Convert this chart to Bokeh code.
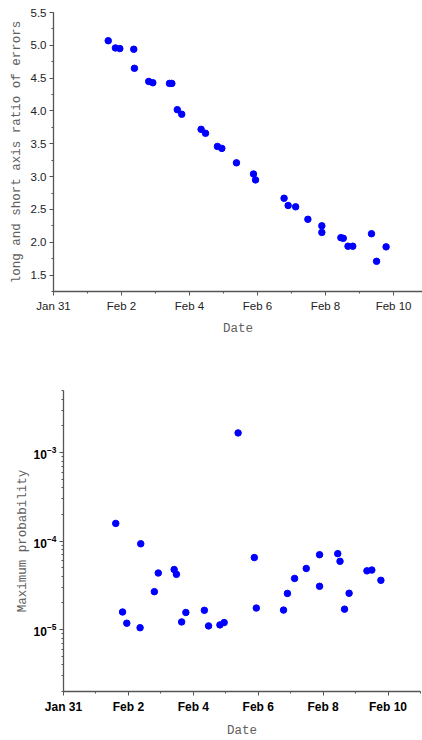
import pandas as pd
from bokeh.plotting import figure
from bokeh.layouts import column, row
from bokeh.models import (FixedTicker, DatetimeTickFormatter, Range1d,
                          SingleIntervalTicker, LogTicker, ColumnDataSource,
                          PrintfTickFormatter)
from bokeh.embed import file_html
from bokeh.resources import INLINE

# ---------------- data ----------------
dates = ["2020-02-01 14:38", "2020-02-01 19:41", "2020-02-01 22:48",
         "2020-02-02 08:38", "2020-02-02 09:07", "2020-02-02 19:12",
         "2020-02-02 22:05", "2020-02-03 09:50", "2020-02-03 11:31",
         "2020-02-03 15:22", "2020-02-03 18:29", "2020-02-04 08:10",
         "2020-02-04 11:17", "2020-02-04 19:41", "2020-02-04 22:48",
         "2020-02-05 09:07", "2020-02-05 21:07", "2020-02-05 22:34",
         "2020-02-06 18:43", "2020-02-06 21:36", "2020-02-07 02:53",
         "2020-02-07 11:31", "2020-02-07 21:22", "2020-02-07 21:22",
         "2020-02-08 10:48", "2020-02-08 12:29", "2020-02-08 15:50",
         "2020-02-08 19:12", "2020-02-09 08:24", "2020-02-09 12:00",
         "2020-02-09 18:43"]

axis_ratio = [5.07, 4.96, 4.95, 4.94, 4.65, 4.45, 4.43, 4.42, 4.42, 4.02,
              3.95, 3.72, 3.66, 3.46, 3.43, 3.21, 3.04, 2.95, 2.67, 2.56,
              2.54, 2.35, 2.25, 2.15, 2.07, 2.06, 1.94, 1.94, 2.13, 1.71, 1.93]

max_prob = [1.58e-4, 1.58e-5, 1.18e-5, 1.05e-5, 9.3e-5, 2.68e-5, 4.35e-5,
            4.76e-5, 4.2e-5, 1.22e-5, 1.56e-5, 1.65e-5, 1.1e-5, 1.13e-5,
            1.2e-5, 1.66e-3, 6.5e-5, 1.75e-5, 1.66e-5, 2.56e-5, 3.78e-5,
            4.9e-5, 7.0e-5, 3.08e-5, 7.2e-5, 5.9e-5, 1.7e-5, 2.57e-5,
            4.6e-5, 4.7e-5, 3.6e-5]

major_dates = ["2020-01-31", "2020-02-02", "2020-02-04", "2020-02-06",
               "2020-02-08", "2020-02-10"]
minor_dates = ["2020-02-01", "2020-02-03", "2020-02-05", "2020-02-07",
               "2020-02-09", "2020-02-11"]

src = ColumnDataSource(dict(date=pd.to_datetime(dates), ratio=axis_ratio, prob=max_prob))


def ms(s):
    return pd.Timestamp(s).timestamp() * 1000.0


date_ticker = FixedTicker(ticks=[ms(d) for d in major_dates],
                          minor_ticks=[ms(d) for d in minor_dates])
fmt = "%b %-d"
date_fmt = DatetimeTickFormatter(microseconds=fmt, milliseconds=fmt, seconds=fmt,
                                 minsec=fmt, minutes=fmt, hourmin=fmt, hours=fmt,
                                 days=fmt, months=fmt, years=fmt)

AXIS_COLOR = "#555555"
LABEL_COLOR = "#606060"


def style(p, tick_font_size, tick_bold):
    p.grid.visible = False
    p.outline_line_color = None
    p.background_fill_color = "white"
    p.border_fill_color = "white"
    for ax in (p.xaxis[0], p.yaxis[0]):
        ax.axis_line_color = AXIS_COLOR
        ax.axis_line_width = 1.3
        ax.major_tick_line_color = AXIS_COLOR
        ax.minor_tick_line_color = AXIS_COLOR
        ax.major_tick_in = 0
        ax.major_tick_out = 4
        ax.minor_tick_in = 0
        ax.minor_tick_out = 2
        ax.major_label_text_font = "Liberation Sans"
        ax.major_label_text_font_size = tick_font_size
        ax.major_label_text_font_style = "bold" if tick_bold else "normal"
        ax.major_label_text_color = "black" if tick_bold else "#222222"
        ax.axis_label_text_font = "Liberation Mono"
        ax.axis_label_text_font_size = "12.5px"
        ax.axis_label_text_font_style = "normal"
        ax.axis_label_text_color = LABEL_COLOR
    p.xaxis[0].ticker = date_ticker
    p.xaxis[0].formatter = date_fmt
    p.xaxis[0].major_label_standoff = 4
    p.xaxis[0].axis_label_standoff = 7
    p.yaxis[0].major_label_standoff = 3


# ---------------- top chart ----------------
p1 = figure(width=422, height=340, x_axis_type="datetime",
            x_range=Range1d(pd.Timestamp("2020-01-31"),
                            pd.Timestamp("2020-01-31") + pd.Timedelta(days=10.85)),
            y_range=Range1d(1.25, 5.5),
            output_backend="svg", toolbar_location=None,
            min_border_left=53, min_border_right=0,
            min_border_top=12, min_border_bottom=49)
p1.scatter("date", "ratio", source=src, size=6.5, color="#0000FF", line_color="#0000FF")
p1.xaxis.axis_label = "Date"
p1.yaxis.axis_label = "long and short axis ratio of errors"
style(p1, "11.5px", False)
p1.yaxis[0].ticker = SingleIntervalTicker(interval=0.5, num_minor_ticks=2)
p1.yaxis[0].formatter = PrintfTickFormatter(format="%.1f")
p1.yaxis[0].axis_label_standoff = 4

# ---------------- bottom chart ----------------
p2 = figure(width=422, height=400, x_axis_type="datetime", y_axis_type="log",
            x_range=Range1d(pd.Timestamp("2020-01-31"),
                            pd.Timestamp("2020-02-11")),
            y_range=Range1d(2e-6, 5e-3),
            output_backend="svg", toolbar_location=None,
            min_border_left=63, min_border_right=2,
            min_border_top=50, min_border_bottom=49)
p2.scatter("date", "prob", source=src, size=6.5, color="#0000FF", line_color="#0000FF")
p2.xaxis.axis_label = "Date"
p2.yaxis.axis_label = "Maximum probability"
style(p2, "12px", True)
p2.yaxis[0].ticker = LogTicker(mantissas=[1], num_minor_ticks=10)
p2.yaxis[0].axis_label_standoff = 1

layout = column(row(p1), row(p2), spacing=0)
open("out.html", "w").write(file_html(layout, INLINE))
